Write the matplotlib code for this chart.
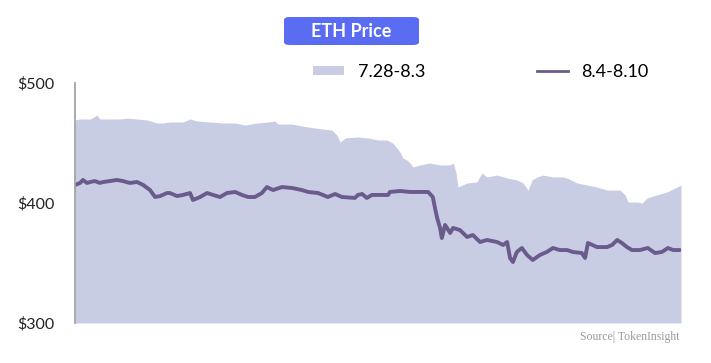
import matplotlib
matplotlib.use("Agg")
import matplotlib.pyplot as plt
from matplotlib.patches import FancyBboxPatch, Patch
from matplotlib.lines import Line2D

# ---- data (hours since start of each week, ETH price in USD) ----
area_hours = [0, 1.4, 4.2, 6.1, 6.9, 9.7, 12.5, 14.4, 17.2, 20.0, 22.7, 24.4, 26.3, 29.9,
              31.9, 33.8, 37.4, 41.0, 44.4, 47.1, 50.7, 53.5, 55.4, 56.3, 60.2, 64.6,
              68.5, 71.2, 72.6, 73.5, 74.9, 78.4, 81.2, 84.0, 86.5, 88.1, 90.1, 90.9,
              92.0, 92.9, 93.7, 95.6, 98.4, 101.2, 103.9, 104.8, 105.6, 106.2, 108.7,
              111.4, 112.8, 114.2, 117.0, 119.8, 122.5, 124.2, 125.6, 126.7, 128.1,
              129.7, 132.5, 135.3, 136.4, 139.2, 141.9, 144.7, 147.5, 151.1, 152.5,
              153.3, 155.8, 157.2, 158.6, 161.3, 164.1, 166.9, 168.0]
area_price = [469.2, 470, 470, 473.3, 470, 470, 470, 470.8, 470, 469.2, 466.7, 466.7, 467.5,
              467.5, 470, 468.3, 467.5, 466.7, 466.7, 465, 466.7, 467.5, 468.3, 465.8,
              465.8, 463.3, 461.7, 460.8, 456.7, 450.8, 454.2, 455, 454.2, 452.5, 452.5,
              450, 442.5, 437.5, 435.8, 433.3, 430, 431.7, 433.3, 431.7, 431.7, 433.3,
              425.8, 413.3, 416.7, 417.5, 425, 421.7, 423.3, 420.8, 419.2, 416.7, 410.8,
              419.2, 421.7, 423.3, 421.7, 421.7, 420.8, 416.7, 415, 413.3, 410.8, 410.8,
              406.7, 400.8, 400.8, 400, 404.2, 406.7, 409.2, 413.3, 415]

line_hours = [0, 1.4, 2.2, 3.3, 4.2, 5.5, 6.9, 7.8, 9.7, 11.6, 13.3, 15.2, 17.2, 18.9, 20.8,
              22.2, 23.6, 25.5, 26.3, 28.3, 29.9, 31.9, 32.7, 34.7, 36.6, 38.3, 40.2,
              42.1, 44.4, 46.3, 48.0, 49.9, 51.8, 53.2, 54.9, 57.4, 60.2, 62.9, 64.6,
              67.4, 70.1, 72.1, 74.0, 77.6, 78.4, 79.6, 80.9, 82.3, 84.5, 86.8, 87.3,
              90.1, 92.9, 95.6, 97.9, 99.2, 99.8, 100.4, 101.2, 101.7, 102.6, 104.0,
              104.8, 106.7, 108.7, 110.3, 112.3, 114.2, 117.0, 118.7, 119.8, 120.6,
              121.4, 122.5, 123.9, 125.3, 126.9, 128.9, 130.8, 132.5, 134.4, 136.4,
              138.0, 140.5, 141.4, 142.2, 144.7, 147.5, 148.9, 150.3, 151.6, 153.0,
              154.4, 156.6, 158.8, 160.8, 162.7, 164.4, 165.8, 167.7]
line_price = [415, 416.7, 419.2, 416.7, 417.5, 418.3, 416.7, 417.5, 418.3, 419.2, 418.3,
              416.7, 417.5, 415, 410.8, 405, 405.8, 408.3, 408.3, 405.8, 406.7, 408.3,
              402.5, 405, 408.3, 406.7, 405, 408.3, 409.2, 406.7, 405, 405, 408.3, 413.3,
              410.8, 413.3, 412.5, 410.8, 409.2, 408.3, 405, 407.5, 405, 404.2, 406.7,
              407.5, 404.2, 406.7, 406.7, 406.7, 409.2, 410, 409.2, 409.2, 409.2, 405,
              395.8, 387.5, 379.2, 370.8, 381.7, 375, 379.2, 377.5, 371.7, 373.3, 367.5,
              369.2, 367.5, 365, 367.5, 354.2, 350.8, 359.2, 362.5, 356.7, 352.5, 356.7,
              359.2, 362.5, 360.8, 360.8, 359.2, 358.3, 354.2, 366.7, 363.3, 363.3, 365,
              369.2, 366.7, 363.3, 360.8, 360.8, 362.5, 358.3, 359.2, 362.5, 360.8, 360.8]

series_labels = ["7.28-8.3", "8.4-8.10"]
y_ticks = [300, 400, 500]
y_tick_labels = ["$300", "$400", "$500"]
title_text = "ETH Price"
source_text = "Source| TokenInsight"

AREA_COLOR = "#c9cde4"
LINE_COLOR = "#6b5b8d"

W, H = 711, 363
fig = plt.figure(figsize=(W / 100, H / 100), dpi=100)
fig.patch.set_facecolor("white")

ax = fig.add_axes([75 / W, 1 - 323 / H, (681 - 75) / W, (323 - 83) / H])
ax.fill_between(area_hours, 300, area_price, color=AREA_COLOR, lw=0, zorder=1)
ax.plot(line_hours, line_price, color=LINE_COLOR, lw=2.8, zorder=2,
        solid_joinstyle="round", solid_capstyle="round")

ax.set_xlim(0, 168)
ax.set_ylim(300, 500)
ax.set_xticks([])
ax.set_yticks(y_ticks)
ax.set_yticklabels(y_tick_labels, fontfamily="Lato", fontsize=11.5, color="#222222")
ax.tick_params(axis="y", length=0, pad=15)
for s in ["top", "right", "bottom"]:
    ax.spines[s].set_visible(False)
ax.spines["left"].set_color("#a3a3a3")
ax.spines["left"].set_linewidth(1.3)
ax.set_facecolor("none")

# legend
handles = [Patch(facecolor=AREA_COLOR, edgecolor="none"),
           Line2D([0], [0], color=LINE_COLOR, lw=2)]
leg = fig.legend(handles, series_labels, ncol=2, loc="center",
                 bbox_to_anchor=(481 / W, 1 - 72 / H), frameon=False,
                 prop={"family": "Lato", "size": 13}, handlelength=1.7,
                 handleheight=0.45, handletextpad=0.75, columnspacing=6.2)

# title box
bx0, by0, bw, bh = 284 / W, 1 - 45 / H, 135 / W, 28 / H
box = FancyBboxPatch((bx0, by0), bw, bh, boxstyle="round,pad=0,rounding_size=0.008",
                     transform=fig.transFigure, facecolor="#5a6cf2", edgecolor="none")
fig.patches.append(box)
fig.text(bx0 + bw / 2, by0 + bh / 2, title_text, ha="center", va="center",
         color="white", fontfamily="Lato", fontweight="bold", fontsize=13)

fig.text(680 / W, 1 - 337 / H, source_text, ha="right", va="center",
         fontfamily="Liberation Serif", fontsize=8.5, color="#9a9a9a")

fig.savefig("out.png", dpi=100)
